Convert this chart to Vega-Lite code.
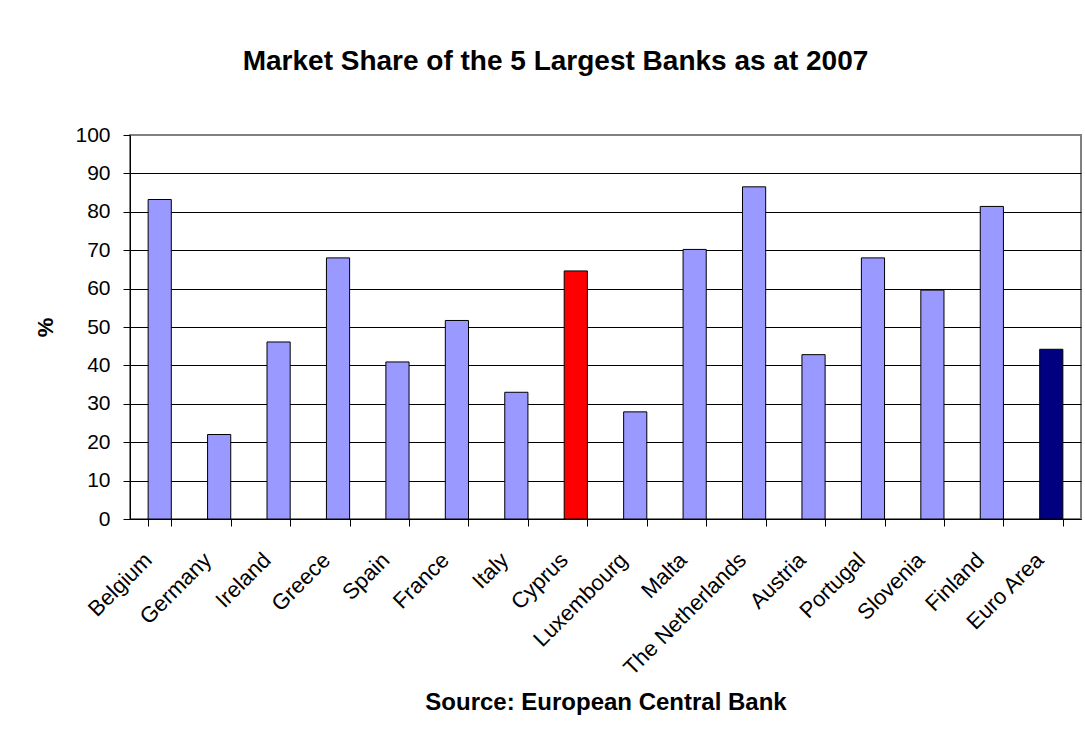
{
  "$schema": "https://vega.github.io/schema/vega-lite/v6.json",
  "width": 951,
  "height": 384,
  "autosize": {"type": "none"},
  "padding": {"left": 130, "top": 135, "right": 4, "bottom": 214},
  "background": "white",
  "title": {
    "text": "Market Share of the 5 Largest Banks as at 2007",
    "font": "Liberation Sans",
    "fontSize": 28,
    "fontWeight": "bold",
    "color": "black",
    "anchor": "middle",
    "frame": "group",
    "offset": 26,
    "baseline": "alphabetic",
    "dx": -50
  },
  "data": {
    "values": [
      {"country": "Belgium", "share": 83.2, "group": "member"},
      {"country": "Germany", "share": 22.0, "group": "member"},
      {"country": "Ireland", "share": 46.1, "group": "member"},
      {"country": "Greece", "share": 68.0, "group": "member"},
      {"country": "Spain", "share": 40.9, "group": "member"},
      {"country": "France", "share": 51.7, "group": "member"},
      {"country": "Italy", "share": 33.0, "group": "member"},
      {"country": "Cyprus", "share": 64.6, "group": "Cyprus"},
      {"country": "Luxembourg", "share": 27.9, "group": "member"},
      {"country": "Malta", "share": 70.2, "group": "member"},
      {"country": "The Netherlands", "share": 86.5, "group": "member"},
      {"country": "Austria", "share": 42.8, "group": "member"},
      {"country": "Portugal", "share": 68.0, "group": "member"},
      {"country": "Slovenia", "share": 59.6, "group": "member"},
      {"country": "Finland", "share": 81.4, "group": "member"},
      {"country": "Euro Area", "share": 44.2, "group": "Euro Area"}
    ]
  },
  "mark": {"type": "bar", "stroke": "black", "strokeWidth": 1},
  "encoding": {
    "x": {
      "field": "country",
      "type": "nominal",
      "sort": null,
      "scale": {"paddingInner": 0.61, "paddingOuter": 0.305},
      "axis": {
        "title": "Source: European Central Bank",
        "titleFont": "Liberation Sans",
        "titleFontSize": 24,
        "titleFontWeight": "bold",
        "titleColor": "black",
        "titlePadding": 12,
        "labelFont": "Liberation Sans",
        "labelFontSize": 22,
        "labelColor": "black",
        "labelAngle": -45,
        "labelAlign": "right",
        "labelBaseline": "top",
        "labelPadding": 23,
        "labelOffset": -19,
        "tickBand": "extent",
        "tickSize": 7,
        "tickColor": "black",
        "domainColor": "black",
        "grid": false
      }
    },
    "y": {
      "field": "share",
      "type": "quantitative",
      "scale": {"domain": [0, 100], "nice": false},
      "axis": {
        "title": "%",
        "titleFont": "Liberation Sans",
        "titleFontSize": 22,
        "titleFontWeight": "bold",
        "titleColor": "black",
        "titlePadding": 17,
        "values": [0, 10, 20, 30, 40, 50, 60, 70, 80, 90, 100],
        "labelFont": "Liberation Sans",
        "labelFontSize": 21,
        "labelColor": "black",
        "labelPadding": 13,
        "tickSize": 7,
        "tickColor": "black",
        "domainColor": "black",
        "grid": true,
        "gridColor": {"condition": {"test": "datum.value == 100", "value": "#808080"}, "value": "black"},
        "gridOpacity": 1
      }
    },
    "color": {
      "field": "group",
      "type": "nominal",
      "scale": {"domain": ["member", "Cyprus", "Euro Area"], "range": ["#9999FF", "#FF0000", "#000080"]},
      "legend": null
    }
  },
  "config": {
    "view": {"stroke": "#808080", "strokeWidth": 2}
  }
}
